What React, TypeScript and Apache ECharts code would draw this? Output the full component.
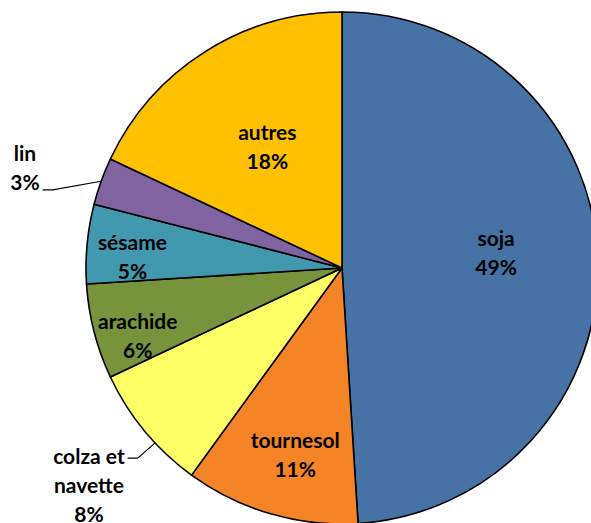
import React, { useEffect, useRef } from "react";
import * as echarts from "echarts";

const categories = ["soja", "tournesol", "colza et\nnavette", "arachide", "sésame", "lin", "autres"];
const shares = [49, 11, 8, 6, 5, 3, 18];
const colors = ["#4672A6", "#F58426", "#FFFF66", "#77933C", "#4198AF", "#8064A2", "#FFC000"];
// label placement (radius factor, angle shift in degrees)
const labelRadius = [0.605, 0.75, 1.3, 0.84, 0.82, 1.3, 0.56];
const labelShift = [-4.1, -2.1, -0.9, -3.8, -2.0, -2.1, 1.0];
const outside = [false, false, true, false, false, true, false];
const lineOffset = [0, 0, -26, 0, 0, 23, 0];
const anchorShift = [0, 0, -3.5, 0, 0, 0, 0];

const CX = 342;
const CY = 268;
const R = 256;

export default function App() {
  const ref = useRef<HTMLDivElement>(null);
  useEffect(() => {
    if (!ref.current) return;
    const chart = echarts.init(ref.current, undefined, { renderer: "svg" });
    const total = shares.reduce((a, b) => a + b, 0);
    const mids: number[] = [];
    let cum = 0;
    shares.forEach((v) => {
      mids.push(((cum + v / 2) / total) * 2 * Math.PI);
      cum += v;
    });
    chart.setOption({
      animation: false,
      backgroundColor: "#fff",
      series: [
        {
          type: "pie",
          center: [CX, CY],
          radius: R,
          startAngle: 90,
          clockwise: true,
          avoidLabelOverlap: false,
          itemStyle: { borderColor: "#000", borderWidth: 1.6 },
          label: {
            show: true,
            position: "inside",
            formatter: (p: any) => `${p.name}\n${p.value}%`,
            fontFamily: "Lato",
            fontWeight: "bold",
            fontSize: 21,
            lineHeight: 29,
            color: "#000",
            align: "center",
          },
          labelLine: { show: false },
          data: categories.map((name, i) => ({
            name,
            value: shares[i],
            itemStyle: { color: colors[i] },
            label: outside[i] ? { position: "outside" } : undefined,
            labelLine: outside[i]
              ? { show: true, lineStyle: { color: "#000", width: 1.2 } }
              : undefined,
          })),
          labelLayout: (p: any) => {
            const i = p.dataIndex;
            const a = mids[i] + (labelShift[i] * Math.PI) / 180;
            const r = labelRadius[i] * R;
            const x = CX + r * Math.sin(a);
            const y = CY - r * Math.cos(a);
            const res: any = { x, y, align: "center", verticalAlign: "middle" };
            if (outside[i]) {
              const b = mids[i] + (anchorShift[i] * Math.PI) / 180;
              const ex = CX + R * Math.sin(b);
              const ey = CY - R * Math.cos(b);
              const w = p.labelRect ? p.labelRect.width : 60;
              const lx = x + w / 2 + 3;
              const ly = y + lineOffset[i];
              res.labelLinePoints = [
                [ex, ey],
                [lx + 10, ly],
                [lx, ly],
              ];
            }
            return res;
          },
        },
      ],
    });
    return () => chart.dispose();
  }, []);
  return (
    <div
      ref={ref}
      style={{ position: "absolute", left: 0, top: 0, width: 591, height: 523 }}
    />
  );
}
